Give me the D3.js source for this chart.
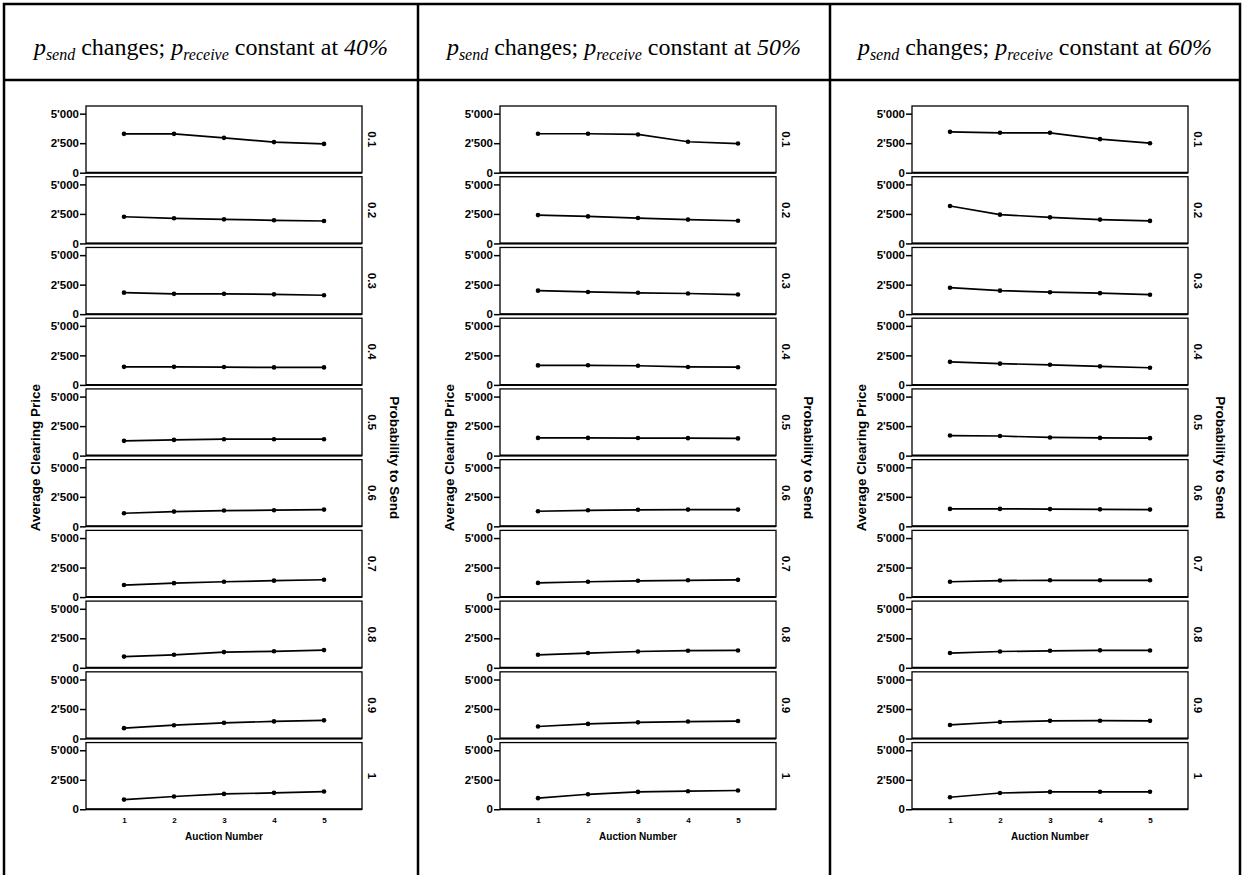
<!DOCTYPE html>
<meta charset="utf-8">
<style>
body { margin: 0; background: #fff; }
.frame { fill: none; stroke: #000; stroke-width: 1.3px; }
.base { stroke: #000; stroke-width: 2px; }
.line { fill: none; stroke: #000; stroke-width: 1.7px; }
.dot { fill: #000; }
.rule { stroke: #000; stroke-width: 2.5px; fill: none; }
.sans { font-family: "Liberation Sans", Arial, sans-serif; font-weight: bold; fill: #000; }
</style>
<body>
<script src="https://d3js.org/d3.v7.min.js"></script>
<script>

// auction numbers on the x axis and the send probabilities (one panel each)
var auctions = [1, 2, 3, 4, 5];
var probSend = ["0.1", "0.2", "0.3", "0.4", "0.5", "0.6", "0.7", "0.8", "0.9", "1"];
var receiveLevels = ["40%", "50%", "60%"];
var yTicks = [0, 2500, 5000];

// average clearing price, one row per send probability
var price40 = [
  [3290, 3290, 2950, 2590, 2440],
  [2260, 2130, 2040, 1960, 1900],
  [1820, 1720, 1720, 1680, 1600],
  [1530, 1530, 1510, 1480, 1480],
  [1250, 1330, 1390, 1390, 1390],
  [1110, 1250, 1340, 1370, 1420],
  [1020, 1180, 1300, 1390, 1470],
  [950, 1100, 1330, 1400, 1500],
  [880, 1130, 1330, 1450, 1540],
  [820, 1080, 1300, 1390, 1500]
];
var price50 = [
  [3300, 3300, 3240, 2620, 2470],
  [2400, 2290, 2150, 2020, 1920],
  [1990, 1880, 1810, 1750, 1660],
  [1650, 1660, 1620, 1520, 1500],
  [1500, 1500, 1490, 1480, 1460],
  [1280, 1360, 1400, 1420, 1420],
  [1200, 1300, 1380, 1420, 1460],
  [1100, 1250, 1380, 1450, 1470],
  [1020, 1240, 1370, 1440, 1480],
  [940, 1270, 1470, 1530, 1590]
];
var price60 = [
  [3460, 3380, 3380, 2840, 2500],
  [3170, 2440, 2210, 2020, 1910],
  [2240, 1990, 1860, 1780, 1650],
  [1950, 1800, 1700, 1570, 1450],
  [1700, 1660, 1540, 1500, 1480],
  [1480, 1480, 1460, 1440, 1420],
  [1300, 1400, 1420, 1420, 1420],
  [1250, 1380, 1440, 1480, 1470],
  [1150, 1400, 1500, 1510, 1500],
  [1020, 1380, 1470, 1480, 1480]
];
var prices = [price40, price50, price60];

// page layout
var width = 1244, height = 875;
var colX = [4, 418, 830, 1240];
var headBottom = 80;
var panelTop = 106, panelStep = 70.73, panelH = 66.7, panelW = 276, frameOffset = 82;
var serif = "'Liberation Serif', 'Times New Roman', 'DejaVu Serif', serif";

var locale = d3.formatLocale({decimal: ".", thousands: "'", grouping: [3], currency: ["", ""]});
var fmt = locale.format(",");

// scales
var x = d3.scaleLinear().domain([0.24, 5.76]).range([0, panelW]);
var y = d3.scaleLinear().domain([0, 5650]).range([panelH, 0]);

var valueline = d3.line()
    .x(function(d, i) { return x(auctions[i]); })
    .y(function(d) { return y(d); });

var svg = d3.select("body").append("svg")
    .attr("width", width)
    .attr("height", height);

svg.append("rect").attr("width", width).attr("height", height).attr("fill", "#fff");

// table rules
svg.append("rect").attr("class", "rule")
    .attr("x", colX[0]).attr("y", 4)
    .attr("width", colX[3] - colX[0]).attr("height", height + 10);
svg.append("line").attr("class", "rule")
    .attr("x1", colX[0]).attr("x2", colX[3]).attr("y1", headBottom).attr("y2", headBottom);
[1, 2].forEach(function(i) {
  svg.append("line").attr("class", "rule")
      .attr("x1", colX[i]).attr("x2", colX[i]).attr("y1", 4).attr("y2", height + 10);
});

receiveLevels.forEach(function(level, c) {
  var cx = (colX[c] + colX[c + 1]) / 2;

  // header text
  var t = svg.append("text")
      .style("font-family", serif)
      .style("font-size", "24px")
      .attr("x", cx).attr("y", 55).attr("text-anchor", "middle");
  t.append("tspan").style("font-style", "italic").text("p");
  t.append("tspan").style("font-style", "italic").style("font-size", "16px").attr("dy", 5).text("send");
  t.append("tspan").attr("dy", -5).text(" changes; ");
  t.append("tspan").style("font-style", "italic").text("p");
  t.append("tspan").style("font-style", "italic").style("font-size", "16px").attr("dy", 5).text("receive");
  t.append("tspan").attr("dy", -5).text(" constant at ");
  t.append("tspan").style("font-style", "italic").text(level);

  var fx = colX[c] + frameOffset;
  var data = prices[c];

  probSend.forEach(function(p, r) {
    var g = svg.append("g")
        .attr("transform", "translate(" + fx + "," + (panelTop + r * panelStep) + ")");

    g.append("rect").attr("class", "frame")
        .attr("width", panelW).attr("height", panelH);
    g.append("line").attr("class", "base")
        .attr("x1", 0).attr("x2", panelW).attr("y1", panelH).attr("y2", panelH);

    var ya = g.append("g")
        .call(d3.axisLeft(y).tickValues(yTicks).tickSize(6).tickPadding(1).tickFormat(fmt));
    ya.select(".domain").remove();
    ya.selectAll("line").attr("stroke-width", 1.5);
    ya.selectAll("text").attr("class", "sans").style("font-size", "11.5px").attr("font-family", null);

    g.append("path")
        .datum(data[r])
        .attr("class", "line")
        .attr("d", valueline);

    g.selectAll(".dot")
        .data(data[r])
      .enter().append("circle")
        .attr("class", "dot")
        .attr("cx", function(d, i) { return x(auctions[i]); })
        .attr("cy", function(d) { return y(d); })
        .attr("r", 2.3);

    g.append("text").attr("class", "sans")
        .style("font-size", "11.5px")
        .attr("text-anchor", "middle")
        .attr("dominant-baseline", "central")
        .attr("transform", "translate(" + (panelW + 9.5) + "," + (panelH / 2) + ") rotate(90)")
        .text(p);

    if (r === probSend.length - 1) {
      var xa = g.append("g")
          .attr("transform", "translate(0," + panelH + ")")
          .call(d3.axisBottom(x).tickValues(auctions).tickSize(0).tickPadding(8).tickFormat(d3.format("d")));
      xa.select(".domain").remove();
      xa.selectAll("text").attr("class", "sans").style("font-size", "8px").attr("font-family", null);
    }
  });

  var midY = panelTop + ((probSend.length - 1) * panelStep + panelH) / 2;
  var lastBottom = panelTop + (probSend.length - 1) * panelStep + panelH;

  svg.append("text").attr("class", "sans")
      .style("font-size", "10px")
      .attr("text-anchor", "middle")
      .attr("x", fx + panelW / 2).attr("y", lastBottom + 31)
      .text("Auction Number");

  svg.append("text").attr("class", "sans")
      .style("font-size", "13.5px")
      .attr("text-anchor", "middle")
      .attr("dominant-baseline", "central")
      .attr("transform", "translate(" + (fx - 51) + "," + midY + ") rotate(-90)")
      .text("Average Clearing Price");

  svg.append("text").attr("class", "sans")
      .style("font-size", "13.5px")
      .attr("text-anchor", "middle")
      .attr("dominant-baseline", "central")
      .attr("transform", "translate(" + (fx + panelW + 32) + "," + midY + ") rotate(90)")
      .text("Probability to Send");
});

</script>
</body>
